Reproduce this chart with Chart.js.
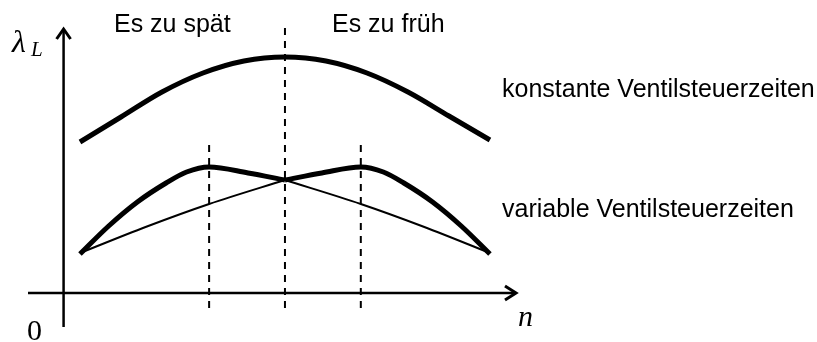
<!DOCTYPE html>
<html>
<head>
<meta charset="utf-8">
<script src="https://cdn.jsdelivr.net/npm/chart.js@4.4.1/dist/chart.umd.min.js"></script>
<style>
  html, body { margin: 0; padding: 0; background: #fff; }
  #wrap { width: 817px; height: 342px; position: relative; }
</style>
</head>
<body>
<div id="wrap"><canvas id="chart" width="817" height="342"></canvas></div>
<script>
// engine speed n (arbitrary units), lambda_L (arbitrary units)
const nConst = [0.4, 1.4, 2.4, 3.4, 4.4, 5.4, 6.4, 7.4, 8.4, 9.4, 10.4];
const lambdaConst = [15.1, 17.6, 20.1, 22.0, 23.2, 23.6, 23.2, 22.0, 20.1, 17.7, 15.3];

// variable valve timing: late (left) and early (right) branches
const nVarLeft = [0.4, 1.1, 1.8, 2.5, 3.0, 3.55, 4.5, 5.4];
const lambdaVarLeft = [3.9, 6.7, 9.1, 11.0, 12.1, 12.6, 12.0, 11.3];
const nVarRight = [5.4, 6.3, 7.25, 7.8, 8.3, 9.0, 9.7, 10.4];
const lambdaVarRight = [11.3, 12.0, 12.6, 12.1, 11.0, 9.1, 6.7, 3.9];

// thin crossing lines
const nThinLeft = [0.4, 2.0, 3.55, 5.4];
const lambdaThinLeft = [4.0, 6.6, 8.9, 11.3];
const nThinRight = [5.4, 7.25, 8.8, 10.4];
const lambdaThinRight = [11.3, 8.9, 6.6, 4.0];

// dashed markers: n position, top and bottom lambda
const markerN = [3.55, 5.4, 7.25];
const markerTop = [15.0, 26.5, 15.0];
const markerBottom = [-1.5, -1.5, -1.5];

const topLabels = ['Es zu spät', 'Es zu früh'];
const curveLabels = ['konstante Ventilsteuerzeiten', 'variable Ventilsteuerzeiten'];

const toPoints = (xs, ys) => xs.map((x, i) => ({ x: x, y: ys[i] }));

const datasets = [];
markerN.forEach((n, i) => {
    datasets.push({
        data: [{ x: n, y: markerBottom[i] }, { x: n, y: markerTop[i] }],
        borderColor: '#000',
        borderWidth: 2,
        borderDash: [7, 6],
        pointRadius: 0,
        tension: 0
    });
});

const curve = (xs, ys, width) => ({
    data: toPoints(xs, ys),
    borderColor: '#000',
    borderWidth: width,
    pointRadius: 0,
    cubicInterpolationMode: 'monotone',
    borderCapStyle: 'butt',
    borderJoinStyle: 'round'
});

datasets.push(curve(nThinLeft, lambdaThinLeft, 2));
datasets.push(curve(nThinRight, lambdaThinRight, 2));
datasets.push(curve(nConst, lambdaConst, 5));
datasets.push(curve(nVarLeft, lambdaVarLeft, 5));
datasets.push(curve(nVarRight, lambdaVarRight, 5));

const axesAndText = {
    id: 'axesAndText',
    beforeDatasetsDraw(chart) {
        const ctx = chart.ctx;
        const xs = chart.scales.x;
        const ys = chart.scales.y;
        const x0 = xs.getPixelForValue(0);
        const y0 = ys.getPixelForValue(0);
        const left = chart.chartArea.left;
        const right = chart.chartArea.right;
        const top = chart.chartArea.top;
        const bottom = chart.chartArea.bottom;

        ctx.save();
        ctx.strokeStyle = '#000';
        ctx.lineWidth = 2.5;
        ctx.lineCap = 'butt';

        // y axis
        ctx.beginPath();
        ctx.moveTo(x0, bottom);
        ctx.lineTo(x0, top + 1);
        ctx.stroke();
        // x axis
        ctx.beginPath();
        ctx.moveTo(left, y0);
        ctx.lineTo(right - 1, y0);
        ctx.stroke();

        // arrow heads (open chevrons)
        ctx.lineWidth = 3;
        ctx.lineJoin = 'miter';
        ctx.beginPath();
        ctx.moveTo(x0 - 7, top + 11);
        ctx.lineTo(x0, top + 1);
        ctx.lineTo(x0 + 7, top + 11);
        ctx.stroke();
        ctx.beginPath();
        ctx.moveTo(right - 12, y0 - 7);
        ctx.lineTo(right - 1, y0);
        ctx.lineTo(right - 12, y0 + 7);
        ctx.stroke();
        ctx.restore();
    },
    afterDraw(chart) {
        const ctx = chart.ctx;
        ctx.save();
        ctx.fillStyle = '#000';
        ctx.textBaseline = 'alphabetic';
        ctx.textAlign = 'left';

        ctx.font = '25px "Liberation Sans", Arial, sans-serif';
        ctx.fillText(topLabels[0], 114, 32);
        ctx.fillText(topLabels[1], 332, 32);
        ctx.fillText(curveLabels[0], 502, 97);
        ctx.fillText(curveLabels[1], 502, 217);

        // axis labels
        ctx.font = 'italic 32px "Liberation Serif", "DejaVu Serif", serif';
        ctx.fillText('λ', 12, 52);
        ctx.font = 'italic 21px "Liberation Serif", "DejaVu Serif", serif';
        ctx.fillText('L', 31, 56);
        ctx.font = 'italic 30px "Liberation Serif", "DejaVu Serif", serif';
        ctx.fillText('n', 518, 326);
        ctx.font = '30px "Liberation Serif", "DejaVu Serif", serif';
        ctx.fillText('0', 27, 340);
        ctx.restore();
    }
};

new Chart(document.getElementById('chart'), {
    type: 'line',
    data: { datasets: datasets },
    options: {
        responsive: false,
        animation: false,
        clip: false,
        layout: { padding: { left: 28, top: 28, right: 300, bottom: 15 } },
        plugins: {
            legend: { display: false },
            tooltip: { enabled: false },
            title: { display: false }
        },
        scales: {
            x: { type: 'linear', min: -0.868, max: 11.06, display: false },
            y: { type: 'linear', min: -3.4, max: 26.5, display: false }
        },
        events: []
    },
    plugins: [axesAndText]
});
</script>
</body>
</html>
